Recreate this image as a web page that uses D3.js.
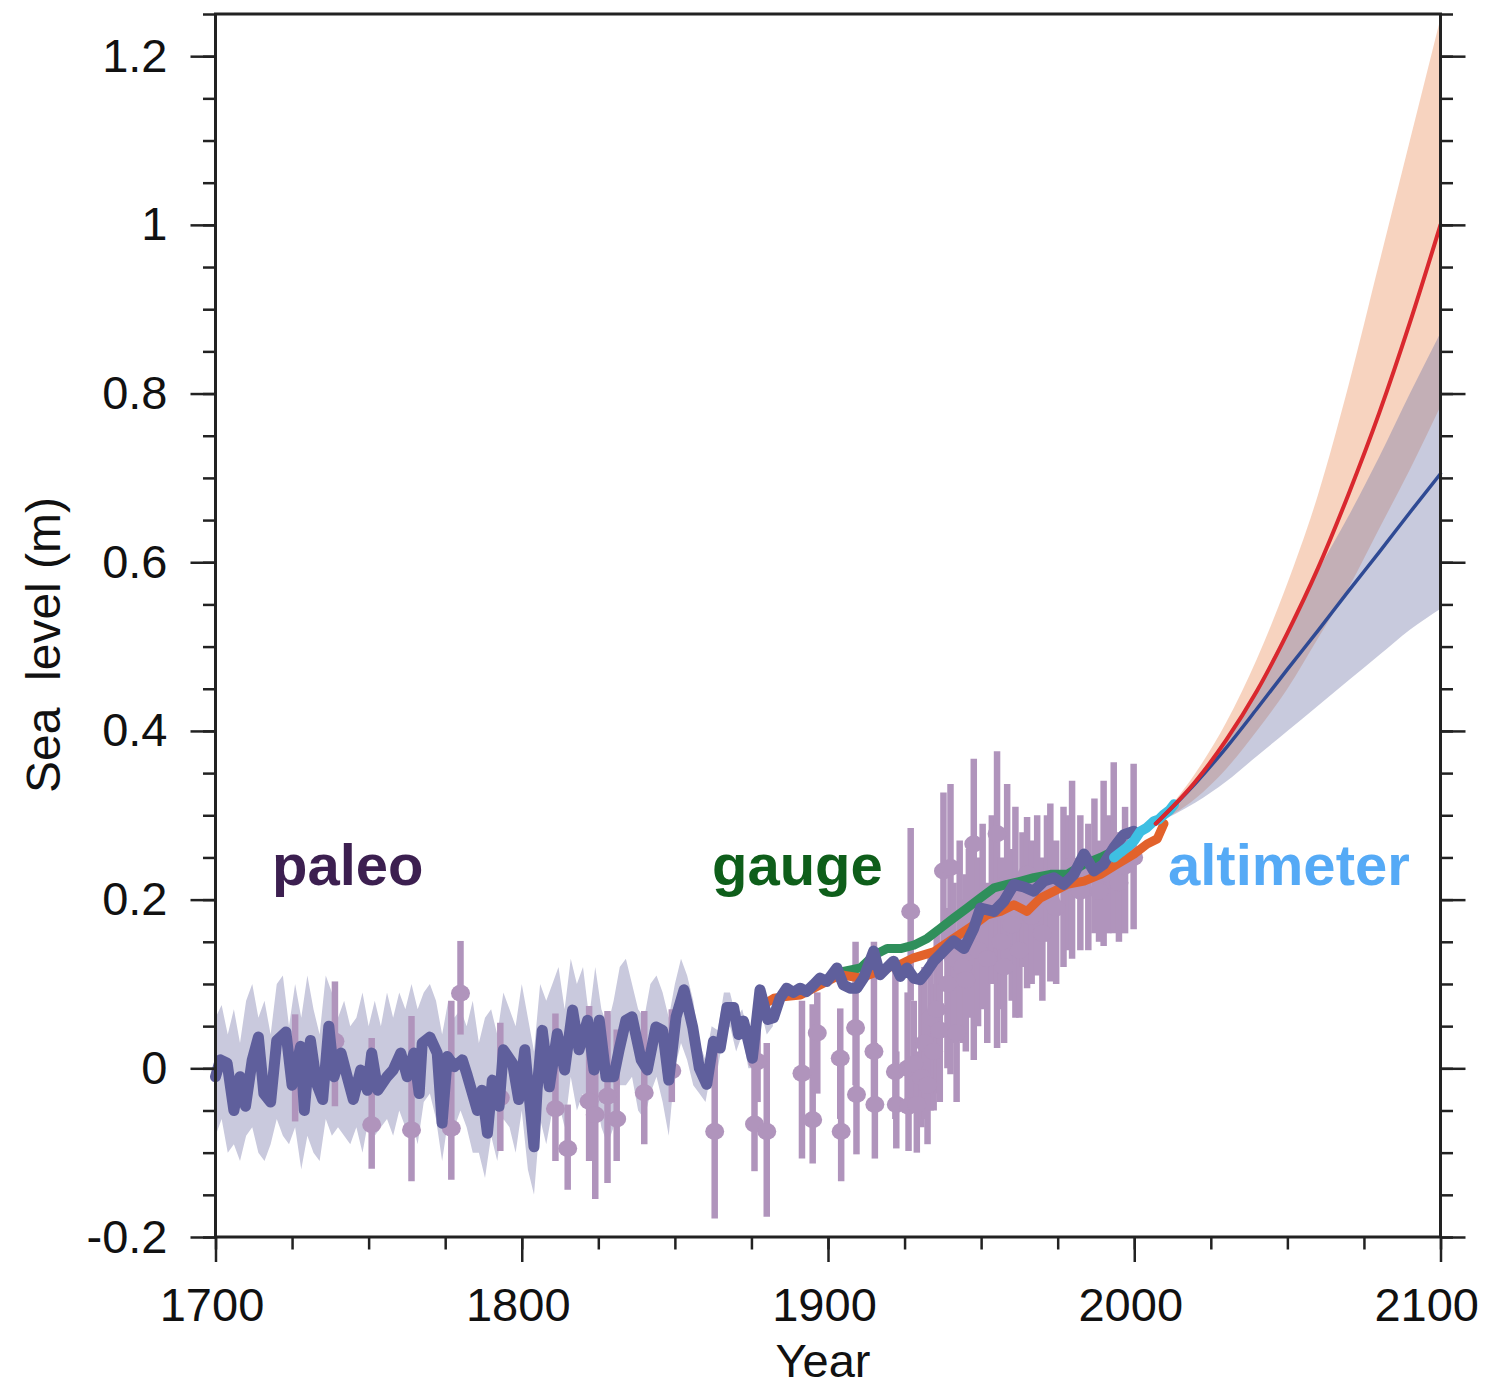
<!DOCTYPE html>
<html lang="en">
<head>
<meta charset="UTF-8">
<title>Sea level</title>
<script src="https://d3js.org/d3.v7.min.js"></script>
<style>
  body { margin: 0; background: #fff; }
  svg { display: block; font-family: "Liberation Sans", Arial, Helvetica, sans-serif; }
</style>
</head>
<body>
<div class="container"></div>
<script>
// ---- data ----
const yTicks = [-0.2, 0, 0.2, 0.4, 0.6, 0.8, 1, 1.2];
const yTickLabels = ["-0.2", "0", "0.2", "0.4", "0.6", "0.8", "1", "1.2"];
const xTicks = [1700, 1800, 1900, 2000, 2100];
const xTickLabels = ["1700", "1800", "1900", "2000", "2100"];

// paleo reconstruction (thick purple line)
const paleoYears = [1700, 1701.6, 1703.8, 1706, 1708, 1709.8, 1712, 1714, 1715.8, 1718, 1720, 1723, 1725, 1727.8, 1729, 1731, 1733, 1735, 1737, 1738.7,
  1741, 1743, 1745, 1747.4, 1749.6, 1751, 1753, 1756, 1758, 1760.5, 1762.6, 1764.8, 1766.5, 1767.5, 1770, 1772.4, 1774, 1775.7, 1778, 1780.6,
  1782, 1785.5, 1787, 1788.8, 1790.4, 1792.6, 1794, 1797, 1799, 1801, 1804, 1805, 1806.7, 1809, 1811.6, 1814, 1816.6, 1818.7, 1821.5, 1823.6,
  1825.3, 1827.5, 1830, 1831.8, 1834, 1836, 1839, 1841, 1843.8, 1846, 1848, 1850.4, 1853, 1855.8, 1858, 1860.4, 1862.6, 1864.8, 1867, 1869.2,
  1870.8, 1872.4, 1875.3, 1877.8, 1880.3, 1882.2, 1884.3, 1886.5, 1888.7, 1890.9, 1893, 1895.3, 1897.4, 1899.6, 1902.9, 1905, 1907.2, 1909.4, 1911.6, 1914.9,
  1917, 1919.2, 1921.4, 1923.6, 1925.8, 1928, 1930.1, 1932.3, 1934.5, 1936.7, 1941, 1944.4, 1947.6, 1949.8, 1954.2, 1957.4, 1960.7, 1964, 1967.2, 1970.5,
  1973.8, 1977, 1980.3, 1983.6, 1986.8, 1990, 1993.4, 1996.6, 1999.9];
const paleoValues = [-0.01, 0.01, 0.006, -0.05, -0.01, -0.045, 0.01, 0.037, -0.03, -0.04, 0.033, 0.043, -0.02, 0.026, -0.05, 0.033, -0.018, -0.037, 0.05, -0.01,
  0.018, -0.01, -0.037, -0.002, -0.026, 0.018, -0.026, -0.01, -0.002, 0.018, -0.01, 0.018, -0.03, 0.03, 0.037, 0.018, -0.065, 0.014, 0.002, 0.01,
  -0.006, -0.05, -0.026, -0.077, -0.014, -0.045, 0.022, 0.006, -0.037, 0.022, -0.093, -0.026, 0.045, -0.022, 0.041, -0.002, 0.069, 0.022, 0.057, -0.002,
  0.057, -0.01, -0.01, 0.022, 0.057, 0.061, 0.01, -0.002, 0.049, 0.045, -0.014, 0.061, 0.093, 0.049, 0.0, -0.019, 0.032, 0.024, 0.072, 0.072,
  0.04, 0.056, 0.012, 0.093, 0.058, 0.06, 0.083, 0.095, 0.09, 0.095, 0.091, 0.099, 0.107, 0.103, 0.119, 0.099, 0.095, 0.095, 0.107, 0.139,
  0.111, 0.119, 0.127, 0.109, 0.119, 0.107, 0.105, 0.115, 0.127, 0.135, 0.151, 0.142, 0.166, 0.19, 0.186, 0.198, 0.218, 0.215, 0.21, 0.222,
  0.226, 0.218, 0.23, 0.254, 0.234, 0.242, 0.262, 0.277, 0.281];

// paleo uncertainty band
const bandYears = [1700, 1702, 1704, 1706, 1708, 1710, 1712, 1714, 1716, 1718, 1720, 1722, 1724, 1726, 1728, 1730, 1732, 1734, 1736, 1738,
  1740, 1742, 1744, 1746, 1748, 1750, 1752, 1754, 1756, 1758, 1760, 1762, 1764, 1766, 1768, 1770, 1772, 1774, 1776, 1778,
  1780, 1782, 1784, 1786, 1788, 1790, 1792, 1794, 1796, 1798, 1800, 1802, 1804, 1806, 1808, 1810, 1812, 1814, 1816, 1818,
  1820, 1822, 1824, 1826, 1828, 1830, 1832, 1834, 1836, 1838, 1840, 1842, 1844, 1846, 1848, 1850, 1852, 1854, 1856, 1858,
  1860, 1862, 1864, 1866, 1868, 1870, 1872, 1874, 1876, 1878, 1880, 1882];
const bandUpper = [0.06, 0.075, 0.04, 0.07, 0.03, 0.08, 0.1, 0.06, 0.08, 0.04, 0.1, 0.11, 0.05, 0.1, 0.06, 0.11, 0.07, 0.04, 0.11, 0.09,
  0.06, 0.08, 0.05, 0.06, 0.09, 0.05, 0.08, 0.05, 0.09, 0.06, 0.09, 0.07, 0.1, 0.07, 0.09, 0.1, 0.08, 0.04, 0.08, 0.06,
  0.07, 0.05, 0.08, 0.03, 0.06, 0.07, 0.04, 0.09, 0.07, 0.05, 0.1, 0.06, 0.02, 0.1, 0.08, 0.1, 0.12, 0.07, 0.13, 0.1,
  0.12, 0.06, 0.12, 0.07, 0.05, 0.08, 0.12, 0.13, 0.1, 0.07, 0.06, 0.1, 0.11, 0.09, 0.06, 0.1, 0.13, 0.11, 0.08, 0.03,
  0.01, 0.05, 0.045, 0.09, 0.09, 0.06, 0.07, 0.04, 0.05, 0.1, 0.075, 0.07];
const bandLower = [-0.08, -0.06, -0.1, -0.09, -0.11, -0.08, -0.07, -0.1, -0.11, -0.09, -0.06, -0.08, -0.09, -0.07, -0.12, -0.08, -0.1, -0.11, -0.06, -0.08,
  -0.07, -0.08, -0.09, -0.07, -0.1, -0.06, -0.08, -0.07, -0.06, -0.08, -0.05, -0.07, -0.06, -0.09, -0.04, -0.03, -0.06, -0.11, -0.06, -0.07,
  -0.05, -0.07, -0.1, -0.1, -0.13, -0.08, -0.11, -0.06, -0.07, -0.1, -0.05, -0.12, -0.15, -0.06, -0.09, -0.05, -0.04, -0.07, -0.01, -0.05,
  -0.03, -0.07, -0.03, -0.07, -0.09, -0.07, -0.02, -0.02, -0.01, -0.05, -0.06, -0.03, -0.01, -0.04, -0.08, 0.0, 0.03, 0.01, -0.02, -0.03,
  -0.04, -0.0, 0.0, 0.04, 0.05, 0.02, 0.04, 0.0, 0.0, 0.07, 0.04, 0.05];

// proxy points with error bars
const proxyYears = [1726, 1739, 1751, 1764, 1777, 1780, 1793, 1811, 1815, 1822, 1824, 1828, 1831, 1840, 1849, 1863, 1876, 1877, 1880,
  1891.5, 1895, 1896.5, 1904, 1904.3, 1909, 1909.3, 1915, 1915.3, 1922, 1922.3, 1926, 1926.3,
  1927, 1928, 1929, 1930.5, 1931.5, 1932.5, 1933.5, 1934.5, 1935.5, 1936.5, 1937.7, 1939, 1940, 1941, 1942, 1943, 1944, 1945, 1946,
  1947.6, 1949, 1950.5, 1952, 1953.5, 1955.2, 1956.5, 1957.5, 1958.5, 1960, 1961.2, 1962.5, 1963.5, 1965, 1966.5, 1968.3, 1970, 1971.5,
  1972.6, 1974.5, 1976.9, 1978.5, 1979.7, 1982.4, 1985, 1987, 1988.5, 1990, 1991.5, 1993.3, 1995, 1997, 1999.8];
const proxyValues = [0.0, 0.032, -0.067, -0.073, -0.071, 0.089, -0.035, -0.048, -0.095, -0.039, -0.055, -0.033, -0.06, -0.029, -0.003, -0.075, -0.066, 0.008, -0.075,
  -0.006, -0.061, 0.042, 0.012, -0.075, 0.048, -0.031, 0.02, -0.043, -0.004, -0.043, 0.0, -0.045,
  0.186, 0.005, -0.043, -0.011, 0.03, -0.02, 0.06, 0.02, 0.07, 0.045, 0.234, 0.1, 0.238, 0.13, 0.042, 0.15, 0.12, 0.105, 0.16,
  0.266, 0.14, 0.18, 0.13, 0.2, 0.278, 0.15, 0.12, 0.22, 0.17, 0.19, 0.14, 0.2, 0.23, 0.18, 0.21, 0.16, 0.22,
  0.2, 0.19, 0.22, 0.23, 0.24, 0.21, 0.23, 0.24, 0.21, 0.25, 0.23, 0.25, 0.22, 0.24, 0.25];
const proxyLow = [-0.063, -0.045, -0.119, -0.134, -0.132, 0.04, -0.098, -0.11, -0.144, -0.11, -0.155, -0.136, -0.11, -0.09, -0.04, -0.178, -0.122, -0.04, -0.176,
  -0.107, -0.113, -0.03, -0.06, -0.134, -0.02, -0.102, -0.04, -0.107, -0.06, -0.095, -0.05, -0.098,
  0.08, -0.05, -0.1, -0.07, -0.06, -0.09, -0.05, -0.05, -0.03, -0.04, 0.13, 0.0, -0.007, 0.03, -0.04, 0.05, 0.03, 0.02, 0.06,
  0.01, 0.05, 0.07, 0.03, 0.1, 0.024, 0.07, 0.03, 0.12, 0.08, 0.06, 0.06, 0.12, 0.095, 0.1, 0.11, 0.08, 0.15,
  0.103, 0.1, 0.12, 0.14, 0.13, 0.14, 0.14, 0.16, 0.15, 0.145, 0.16, 0.16, 0.15, 0.16, 0.165];
const proxyHigh = [0.064, 0.103, 0.036, 0.062, 0.08, 0.151, 0.054, 0.065, -0.043, 0.074, 0.017, 0.068, 0.046, 0.068, 0.07, 0.028, 0.017, 0.05, 0.03,
  0.08, 0.076, 0.09, 0.071, 0.02, 0.15, 0.04, 0.15, 0.03, 0.119, 0.02, 0.09, 0.0,
  0.285, 0.08, 0.02, 0.1, 0.12, 0.06, 0.14, 0.1, 0.16, 0.13, 0.327, 0.19, 0.337, 0.22, 0.14, 0.27, 0.2, 0.23, 0.26,
  0.367, 0.25, 0.29, 0.22, 0.3, 0.376, 0.25, 0.2, 0.337, 0.26, 0.31, 0.23, 0.28, 0.298, 0.27, 0.3, 0.25, 0.3,
  0.314, 0.27, 0.31, 0.3, 0.341, 0.3, 0.29, 0.32, 0.27, 0.341, 0.3, 0.363, 0.28, 0.31, 0.361];

// tide gauge reconstructions
const gaugeGreenYears = [1900, 1905, 1910.6, 1915, 1919.3, 1923.7, 1928, 1932.4, 1936.7, 1941, 1945.4, 1949.8, 1954.2, 1958.5, 1963, 1967.2, 1972.7, 1978.1, 1983.6, 1989, 1993.4];
const gaugeGreenValues = [0.105, 0.115, 0.119, 0.134, 0.142, 0.142, 0.146, 0.154, 0.166, 0.178, 0.19, 0.202, 0.214, 0.218, 0.222, 0.226, 0.23, 0.23, 0.242, 0.25, 0.258];
const gaugeOrangeYears = [1880, 1882.3, 1886, 1891, 1897.5, 1904, 1910.6, 1915, 1919.3, 1924, 1928, 1934.5, 1941, 1947.6, 1952, 1956.3, 1960.7, 1965, 1969.4, 1973.8, 1978.1, 1983.6, 1989, 1994.4, 1999.9, 2004.2, 2007.5, 2009.7];
const gaugeOrangeValues = [0.078, 0.083, 0.085, 0.087, 0.099, 0.111, 0.107, 0.113, 0.119, 0.124, 0.131, 0.138, 0.154, 0.17, 0.182, 0.186, 0.194, 0.186, 0.202, 0.21, 0.218, 0.222, 0.23, 0.242, 0.254, 0.266, 0.272, 0.29];

// satellite altimeter
const altYears = [1993.4, 1995.5, 1997.7, 2000, 2002, 2004, 2006.4, 2008, 2009.7, 2011.5, 2013];
const altValues = [0.25, 0.256, 0.262, 0.27, 0.281, 0.285, 0.293, 0.295, 0.301, 0.306, 0.313];

// projections
const projYears = [2007, 2020, 2030, 2040, 2050, 2060, 2070, 2080, 2090, 2100];
const highMedian = [0.29, 0.34, 0.389, 0.447, 0.516, 0.593, 0.681, 0.777, 0.884, 1.0];
const highUpper = [0.29, 0.35, 0.41, 0.485, 0.575, 0.68, 0.81, 0.955, 1.10, 1.245];
const highLower = [0.29, 0.32, 0.355, 0.40, 0.45, 0.51, 0.57, 0.64, 0.71, 0.785];
const lowMedian = [0.29, 0.338, 0.38, 0.426, 0.473, 0.519, 0.566, 0.612, 0.659, 0.705];
const lowUpper = [0.29, 0.34, 0.39, 0.45, 0.52, 0.59, 0.655, 0.725, 0.80, 0.872];
const lowLower = [0.29, 0.315, 0.34, 0.37, 0.40, 0.43, 0.46, 0.49, 0.52, 0.545];

// ---- chart ----
const W = 1487, H = 1388;
const svg = d3.select(".container")
  .append("svg")
  .attr("width", W)
  .attr("height", H);

svg.append("rect").attr("width", W).attr("height", H).attr("fill", "#fff");

const x = d3.scaleLinear().domain([1700, 2100]).range([215.5, 1440.5]);
const y = d3.scaleLinear().domain([-0.2, 1.25]).range([1237, 14]);

const zip = (xs, ys) => xs.map((d, i) => [d, ys[i]]);

// projection bands
const bandArea = d3.area()
  .x(d => x(d[0])).y0(d => y(d[1])).y1(d => y(d[2]))
  .curve(d3.curveMonotoneX);

svg.append("path")
  .attr("d", bandArea(projYears.map((d, i) => [d, highLower[i], highUpper[i]])))
  .attr("fill", "rgb(240,168,128)").attr("fill-opacity", 0.5);
svg.append("path")
  .attr("d", bandArea(projYears.map((d, i) => [d, lowLower[i], lowUpper[i]])))
  .attr("fill", "rgb(118,122,170)").attr("fill-opacity", 0.4);

// paleo band
svg.append("path")
  .attr("d", d3.area().x(d => x(d[0])).y0(d => y(d[1])).y1(d => y(d[2]))
    (bandYears.map((d, i) => [d, bandLower[i], bandUpper[i]])))
  .attr("fill", "#c9c9dd");

// proxies
const proxy = svg.append("g").attr("fill", "#b094bc").attr("stroke", "#b094bc");
proxy.selectAll("line")
  .data(proxyYears)
  .join("line")
  .attr("x1", d => x(d)).attr("x2", d => x(d))
  .attr("y1", (d, i) => y(proxyLow[i])).attr("y2", (d, i) => y(proxyHigh[i]))
  .attr("stroke-width", 6.5);
proxy.selectAll("ellipse")
  .data(proxyYears)
  .join("ellipse")
  .attr("cx", d => x(d))
  .attr("cy", (d, i) => y(proxyValues[i]))
  .attr("rx", 9.5).attr("ry", 8.5)
  .attr("stroke", "none");

const line = d3.line().x(d => x(d[0])).y(d => y(d[1]));

function drawLine(xs, ys, color, width, curve) {
  svg.append("path")
    .attr("d", (curve ? line.curve(curve) : line.curve(d3.curveLinear))(zip(xs, ys)))
    .attr("fill", "none")
    .attr("stroke", color)
    .attr("stroke-width", width)
    .attr("stroke-linejoin", "round")
    .attr("stroke-linecap", "round");
}

drawLine(gaugeGreenYears, gaugeGreenValues, "#2f8f5b", 9);
drawLine(gaugeOrangeYears, gaugeOrangeValues, "#e2622b", 9);
drawLine(paleoYears, paleoValues, "#5f5f9c", 11);
drawLine(altYears, altValues, "#3ebfe2", 10);
drawLine(projYears, lowMedian, "#2f4a94", 3.5, d3.curveMonotoneX);
drawLine(projYears, highMedian, "#d9282e", 4, d3.curveMonotoneX);

// frame
svg.append("rect")
  .attr("x", x(1700)).attr("y", y(1.25))
  .attr("width", x(2100) - x(1700)).attr("height", y(-0.2) - y(1.25))
  .attr("fill", "none").attr("stroke", "#222").attr("stroke-width", 3);

// axes
const minorY = d3.range(-4, 26).map(k => +(k * 0.05).toFixed(2));
const minorX = d3.range(1700, 2101, 25);

function styleAxis(g) {
  g.select(".domain").remove();
  g.selectAll(".tick line").attr("stroke", "#222").attr("stroke-width", 2.5);
  g.selectAll(".tick text").attr("fill", "#111").attr("font-size", 47);
}

svg.append("g").attr("transform", `translate(${x(1700)},0)`)
  .call(d3.axisLeft(y).tickValues(minorY).tickSize(12.5).tickFormat(""))
  .call(styleAxis);
svg.append("g").attr("transform", `translate(${x(1700)},0)`)
  .call(d3.axisLeft(y).tickValues(yTicks).tickSize(25).tickPadding(23)
    .tickFormat((d, i) => yTickLabels[i]))
  .call(styleAxis);

svg.append("g").attr("transform", `translate(${x(2100)},0)`)
  .call(d3.axisRight(y).tickValues(minorY).tickSize(12.5).tickFormat(""))
  .call(styleAxis);
svg.append("g").attr("transform", `translate(${x(2100)},0)`)
  .call(d3.axisRight(y).tickValues(yTicks).tickSize(25).tickFormat(""))
  .call(styleAxis);

svg.append("g").attr("transform", `translate(0,${y(-0.2)})`)
  .call(d3.axisBottom(x).tickValues(minorX).tickSize(12.5).tickFormat(""))
  .call(styleAxis);
const xAxisG = svg.append("g").attr("transform", `translate(0,${y(-0.2)})`)
  .call(d3.axisBottom(x).tickValues(xTicks).tickSize(25).tickPadding(26)
    .tickFormat((d, i) => xTickLabels[i]))
  .call(styleAxis);
// labels sit a little left of their ticks; keep the last one inside the page
xAxisG.selectAll(".tick text").attr("dx", -4);
xAxisG.selectAll(".tick text").filter(d => d === 2100)
  .attr("text-anchor", "end").attr("dx", 38);

// axis titles
svg.append("text")
  .attr("x", (x(1700) + x(2100)) / 2 - 5).attr("y", 1377)
  .attr("text-anchor", "middle").attr("font-size", 47).attr("fill", "#111")
  .text("Year");

svg.append("text")
  .attr("transform", "translate(60,645) rotate(-90)")
  .attr("text-anchor", "middle").attr("font-size", 48).attr("fill", "#111")
  .text("Sea\u00a0 level (m)");

// series labels
const labels = [
  { text: "paleo", x: 272, color: "#3c1f50" },
  { text: "gauge", x: 712, color: "#0e5e1a" },
  { text: "altimeter", x: 1168, color: "#55aaf6" }
];
svg.selectAll(".lbl")
  .data(labels)
  .join("text")
  .attr("class", "lbl")
  .attr("x", d => d.x).attr("y", 885)
  .attr("font-size", 58).attr("font-weight", "bold")
  .attr("fill", d => d.color)
  .text(d => d.text);
</script>
</body>
</html>
